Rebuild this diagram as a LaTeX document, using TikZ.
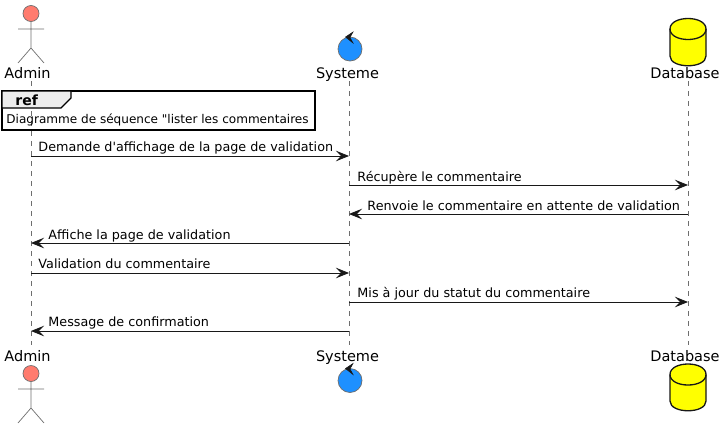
\documentclass[tikz,border=0pt]{standalone}
\usepackage{fontspec}
\setmainfont{DejaVu Sans}[Ligatures=TeXOff]
\usetikzlibrary{arrows.meta}
\definecolor{actorred}{HTML}{FF7B6E}
\definecolor{ctrlblue}{HTML}{1E90FF}
\definecolor{dbyellow}{HTML}{FFFF00}
\definecolor{linegrey}{HTML}{6E6E6E}
\definecolor{inkdark}{HTML}{181818}
\tikzset{
  msg/.style={inkdark, -{Stealth[length=13pt,width=10.5pt,inset=5pt]}},
  msgtext/.style={font=\fontsize{12.75}{15}\selectfont, anchor=base west, inner sep=0pt, text=black},
  parttext/.style={font=\fontsize{14.5}{17}\selectfont, anchor=base, inner sep=0pt, text=black},
  lifeline/.style={linegrey, dash pattern=on 5pt off 5pt, line width=0.7pt}
}
\begin{document}
\begin{tikzpicture}[x=1pt,y=-1pt,line width=0.9pt]
            \useasboundingbox (0,0) rectangle (725,429);

            % ref frame
            \draw[draw=black,line width=1.4pt] (2,91) rectangle (315,130);

            % lifelines
            \coordinate (adminT) at (31,81);
            \coordinate (adminB) at (31,345);
            \coordinate (sysT) at (349,81);
            \coordinate (sysB) at (349,345);
            \coordinate (dbT) at (688,81);
            \coordinate (dbB) at (688,345);
            \draw[lifeline] (adminT)--(adminB);
            \draw[lifeline] (sysT)--(sysB);
            \draw[lifeline] (dbT)--(dbB);

            % top row
            \node[parttext] (adminTop) at (27.5,78) {Admin};
            \node[parttext] (sysTop) at (347.5,78) {Systeme};
            \node[parttext] (dbTop) at (685,78) {Database};
            \node[parttext] (adminBot) at (27.5,361) {Admin};
            \node[parttext] (sysBot) at (347.5,361) {Systeme};
            \node[parttext] (dbBot) at (685,361) {Database};

            % actors
            \draw[fill=actorred,draw=linegrey,line width=0.7pt] (31,13.5) circle (8);
            \draw[linegrey,line width=0.7pt] (31,21.5)--(31,48) (18,29)--(44,29) (31,48)--(18,63) (31,48)--(44,63);
            \draw[fill=actorred,draw=linegrey,line width=0.7pt] (31,373.5) circle (8);
            \draw[linegrey,line width=0.7pt] (31,381.5)--(31,408) (18,389)--(44,389) (31,408)--(18,423) (31,408)--(44,423);

            % controls
            \draw[fill=ctrlblue,draw=linegrey,line width=0.7pt] (350,49) circle (12);
            \filldraw[inkdark,line width=0.5pt] (353,32)--(345.5,37)--(353,43)--(350,37.5)--cycle;
            \draw[fill=ctrlblue,draw=linegrey,line width=0.7pt] (350,380.5) circle (12);
            \filldraw[inkdark,line width=0.5pt] (353,363.5)--(345.5,368.5)--(353,374.5)--(350,369)--cycle;

            % databases
            \draw[fill=dbyellow,draw=inkdark,line width=1.3pt] (670,29) .. controls (670,15) and (706,15) .. (706,29)
                -- (706,56) .. controls (706,69) and (670,69) .. (670,56) -- cycle;
            \draw[draw=inkdark,line width=1.3pt] (670,29) .. controls (670,43) and (706,43) .. (706,29);
            \draw[fill=dbyellow,draw=inkdark,line width=1.3pt] (670,374.5) .. controls (670,360.5) and (706,360.5) .. (706,374.5)
                -- (706,401) .. controls (706,414) and (670,414) .. (670,401) -- cycle;
            \draw[draw=inkdark,line width=1.3pt] (670,374.5) .. controls (670,388.5) and (706,388.5) .. (706,374.5);

            % ref tag
            \draw[fill=black!7,draw=black,line width=1.4pt] (2,91) -- (71,91) -- (71,98) -- (61,108) -- (2,108) -- cycle;
            \node[msgtext,font=\fontsize{14}{16}\selectfont\bfseries] (refTag) at (15,105) {ref};
            \node[msgtext,font=\fontsize{12.05}{15}\selectfont] (refText) at (6,123) {Diagramme de séquence "lister les commentaires};

            % messages
            \coordinate (a1) at (31,156); \coordinate (s1) at (349,156);
            \coordinate (s2) at (349,185); \coordinate (d2) at (688,185);
            \coordinate (d3) at (688,214); \coordinate (s3) at (349,214);
            \coordinate (s4) at (349,243); \coordinate (a4) at (31,243);
            \coordinate (a5) at (31,273); \coordinate (s5) at (349,273);
            \coordinate (s6) at (349,302); \coordinate (d6) at (688,302);
            \coordinate (s7) at (349,331); \coordinate (a7) at (31,331);
            \draw[msg] (a1)--(s1);
            \draw[msg] (s2)--(d2);
            \draw[msg] (d3)--(s3);
            \draw[msg] (s4)--(a4);
            \draw[msg] (a5)--(s5);
            \draw[msg] (s6)--(d6);
            \draw[msg] (s7)--(a7);
            \node[msgtext] (m1) at (38,151) {Demande d'affichage de la page de validation};
            \node[msgtext] (m2) at (357,181) {Récupère le commentaire};
            \node[msgtext] (m3) at (367,210) {Renvoie le commentaire en attente de validation};
            \node[msgtext] (m4) at (48,239) {Affiche la page de validation};
            \node[msgtext] (m5) at (38,268) {Validation du commentaire};
            \node[msgtext] (m6) at (357,297) {Mis à jour du statut du commentaire};
            \node[msgtext] (m7) at (48,326) {Message de confirmation};
\end{tikzpicture}
\end{document}
